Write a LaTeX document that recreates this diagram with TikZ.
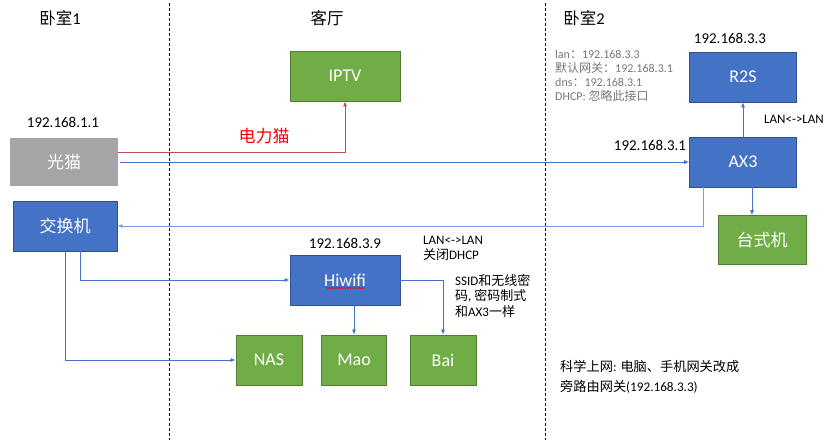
\documentclass[tikz,border=0pt]{standalone}
\usepackage{fontspec}
\setmainfont{Carlito}
\newfontfamily\cjk{Noto Sans CJK SC}
\usetikzlibrary{arrows.meta,decorations.pathmorphing}
\definecolor{bl}{HTML}{4472C4}
\definecolor{blb}{HTML}{2F528F}
\definecolor{gr}{HTML}{70AD47}
\definecolor{grb}{HTML}{507E32}
\definecolor{gy}{HTML}{A5A5A5}
\definecolor{infogray}{HTML}{767676}
\definecolor{redl}{HTML}{C0504D}
\begin{document}
\begin{tikzpicture}[x=1pt,y=-1pt,
  box/.style={line width=0.8pt, inner sep=0pt, text=white, font=\fontsize{18}{20}\selectfont},
  bluebox/.style={box, fill=bl, draw=blb},
  greenbox/.style={box, fill=gr, draw=grb},
  graybox/.style={box, fill=gy, draw=none},
  conn/.style={draw=bl, line width=0.7pt, -{Latex[length=5pt,width=4pt]}},
  lbl/.style={font=\fontsize{15}{17}\selectfont, inner sep=0pt},
  title/.style={font=\fontsize{16.5}{18}\selectfont, inner sep=0pt},
  divider/.style={black, line width=0.7pt, dash pattern=on 3pt off 2pt}]
\useasboundingbox (0,0) rectangle (833,446);

% dividers
\coordinate (d1t) at (169,3); \coordinate (d1b) at (169,440);
\coordinate (d2t) at (545,3); \coordinate (d2b) at (545,440);
\draw[divider] (d1t) -- (d1b);
\draw[divider] (d2t) -- (d2b);

% titles
\node[title] (t1) at (60,18) {{\cjk 卧室}1};
\node[title] (t2) at (327,18) {\cjk 客厅};
\node[title] (t3) at (584,18) {{\cjk 卧室}2};

% boxes
\node[greenbox, minimum width=110pt, minimum height=50pt] (iptv) at (345,76) {IPTV};
\node[graybox, minimum width=108pt, minimum height=48pt] (gm) at (64,162) {\cjk\fontsize{17}{19}\selectfont 光猫};
\node[bluebox, minimum width=104pt, minimum height=50pt] (sw) at (65,226) {\cjk\fontsize{17}{19}\selectfont 交换机};
\node[bluebox, minimum width=107pt, minimum height=50pt] (r2s) at (743,77) {R2S};
\node[bluebox, minimum width=107pt, minimum height=50pt] (ax3) at (743,162) {AX3};
\node[greenbox, minimum width=88pt, minimum height=49pt] (desk) at (762,240) {\cjk\fontsize{17}{19}\selectfont 台式机};
\node[bluebox, minimum width=110pt, minimum height=50pt] (hw) at (345,280) {Hiwifi};
\node[greenbox, minimum width=66pt, minimum height=50pt] (nas) at (269,360) {NAS};
\node[greenbox, minimum width=65pt, minimum height=50pt] (mao) at (354,360) {Mao};
\node[greenbox, minimum width=66pt, minimum height=50pt] (bai) at (443,360) {Bai};

% spellcheck underline
\coordinate (u1) at (326,288); \coordinate (u2) at (365,288);
\draw[red, line width=0.5pt, decorate, decoration={snake, amplitude=0.7pt, segment length=2.5pt}] (u1) -- (u2);

% labels
\node[lbl] (ip1) at (63,122) {192.168.1.1};
\node[lbl] (ip33) at (730,38) {192.168.3.3};
\node[lbl] (ip31) at (650,145) {192.168.3.1};
\node[lbl] (ip39) at (345,243) {192.168.3.9};
\node[font=\fontsize{13}{15}\selectfont, inner sep=0pt] (lanr) at (794,119) {LAN<->LAN};
\node[font=\fontsize{17}{19}\selectfont\cjk, text=red, inner sep=0pt] (plc) at (264,136) {电力猫};

\node[anchor=north west, align=left, text=infogray, font=\fontsize{12}{14}\selectfont, inner sep=0pt] (info) at (555,50)
  {lan{\cjk ：}192.168.3.3\\{\cjk 默认网关：}192.168.3.1\\dns{\cjk ：}192.168.3.1\\DHCP: {\cjk 忽略此接口}};

\node[anchor=north west, align=left, font=\fontsize{13}{15}\selectfont, inner sep=0pt] (hwnote) at (423,236)
  {LAN<->LAN\\{\cjk 关闭}DHCP};
\node[anchor=north west, align=left, font=\fontsize{13}{15.5}\selectfont, inner sep=0pt] (ssid) at (455,274)
  {SSID{\cjk 和无线密}\\{\cjk 码}, {\cjk 密码制式}\\{\cjk 和}AX3{\cjk 一样}};
\node[anchor=north west, align=left, font=\fontsize{13.2}{20}\selectfont, inner sep=0pt] (note) at (560,360)
  {{\cjk 科学上网}: {\cjk 电脑、手机网关改成}\\{\cjk 旁路由网关}(192.168.3.3)};

% connectors
\draw[draw=redl, line width=0.8pt, -{Latex[length=5pt,width=4pt,fill=red!85!black]}] ([yshift=10pt]gm.east) -| (iptv.south);
\draw[conn] ([xshift=2pt]gm.east) -- (ax3.west);
\draw[conn] (ax3.north) -- (r2s.south);
\draw[conn, draw=bl!70] ([xshift=-40pt]ax3.south) |- (sw.east);
\draw[conn] ([xshift=9pt]ax3.south) -- ([xshift=9pt]ax3.south |- desk.north);
\draw[conn] (sw.south) |- (nas.west);
\draw[conn] ([xshift=15pt]sw.south) |- (hw.west);
\draw[conn] (hw.south -| mao.north) -- (mao.north);
\draw[conn] (hw.east) -| (bai.north);
\end{tikzpicture}
\end{document}
